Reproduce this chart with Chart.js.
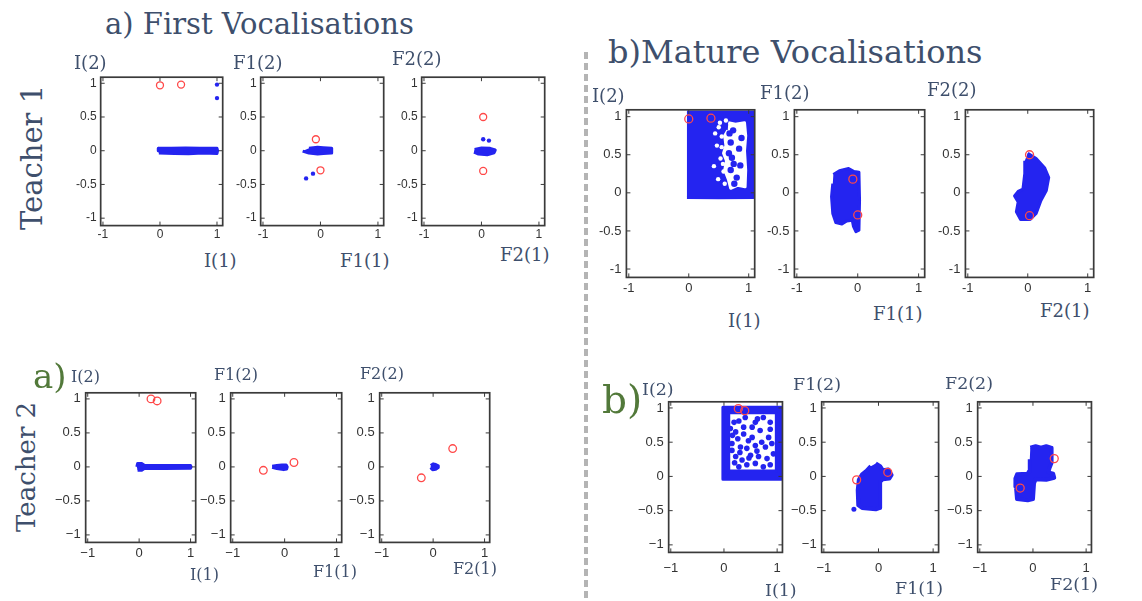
<!DOCTYPE html>
<html>
<head>
<meta charset="utf-8">
<script src="https://cdn.jsdelivr.net/npm/chart.js@4.4.0/dist/chart.umd.min.js"></script>
<style>
  body { margin: 0; width: 1142px; height: 601px; position: relative; overflow: hidden; background: #fff;
         font-family: 'DejaVu Serif', serif; color: #3e4f6c; }
  .t { position: absolute; white-space: nowrap; line-height: 1; }
  canvas { position: absolute; }
  .sep { position: absolute; left: 584px; top: 52px; width: 4px; height: 549px;
         background: repeating-linear-gradient(to bottom, #b4b4b4 0 7px, transparent 7px 11px); }
</style>
</head>
<body>
<div class="sep"></div>
<script>
// axes
const xTicks = [-1, 0, 1];
const yTicks = [-1, -0.5, 0, 0.5, 1];
const xLabelsHyphen = ['-1', '0', '1'];
const yLabelsHyphen = ['-1', '-0.5', '0', '0.5', '1'];
const xLabelsMinus = ['\u22121', '0', '1'];
const yLabelsMinus = ['\u22121', '\u22120.5', '0', '0.5', '1'];

// Teacher 1, first vocalisations
const t1FirstITargets = [[0.0, 0.97], [0.37, 0.98]];
const t1FirstIPoints = [[1.0, 0.98], [1.0, 0.78]];
const t1FirstICloud = [[-0.02, -0.035], [0.25, -0.04], [0.5, -0.045], [0.75, -0.035], [1.0, -0.04], [1.01, 0],
  [1.0, 0.035], [0.7, 0.035], [0.45, 0.04], [0.2, 0.035], [-0.02, 0.035], [-0.03, 0]];
const t1FirstF1Targets = [[-0.08, 0.17], [0.0, -0.29]];
const t1FirstF1Points = [[-0.25, -0.41], [-0.13, -0.34]];
const t1FirstF1Cloud = [[-0.31, -0.005], [-0.2, -0.035], [-0.05, -0.05], [0.05, -0.04], [0.19, -0.035], [0.2, 0],
  [0.19, 0.035], [0.05, 0.045], [-0.05, 0.05], [-0.2, 0.035]];
const t1FirstF2Targets = [[0.03, 0.5], [0.03, -0.3]];
const t1FirstF2Points = [[0.03, 0.17], [0.13, 0.15]];
const t1FirstF2Cloud = [[-0.13, -0.02], [-0.05, -0.05], [0.1, -0.06], [0.22, -0.03], [0.24, 0.01], [0.15, 0.035],
  [0.0, 0.04], [-0.12, 0.02]];

// Teacher 1, mature vocalisations
const t1MatureITargets = [[0.0, 0.97], [0.37, 0.98]];
const t1MatureICloud = [[-0.03, -0.06], [0.5, -0.065], [1.08, -0.06], [1.08, 1.06], [-0.03, 1.06]];
const t1MatureIGap = [[0.66, 0.92], [0.78, 0.9], [0.93, 0.92], [0.95, 0.75], [0.93, 0.55], [0.95, 0.3],
  [0.94, 0.08], [0.82, 0.1], [0.7, 0.06], [0.66, 0.18], [0.6, 0.3], [0.63, 0.42], [0.58, 0.52], [0.62, 0.62],
  [0.6, 0.75], [0.65, 0.82]];
const t1MatureIHoles = [[0.5, 0.86], [0.55, 0.74], [0.47, 0.62], [0.53, 0.45], [0.58, 0.28], [0.49, 0.18],
  [0.62, 0.95], [0.42, 0.35], [0.6, 0.12], [0.44, 0.78], [0.55, 0.6], [0.52, 0.92], [0.57, 0.38]];
const t1MatureIIslands = [[0.74, 0.82], [0.7, 0.66], [0.84, 0.58], [0.72, 0.46], [0.86, 0.36], [0.7, 0.3],
  [0.8, 0.2], [0.88, 0.72], [0.76, 0.12], [0.67, 0.52], [0.75, 0.38], [0.68, 0.78]];
const t1MatureF1Targets = [[-0.08, 0.18], [0.0, -0.29]];
const t1MatureF1Cloud = [[-0.4, 0.24], [-0.3, 0.29], [-0.15, 0.32], [-0.06, 0.28], [0.02, 0.27], [0.03, -0.1],
  [0.02, -0.49], [-0.03, -0.51], [-0.07, -0.44], [-0.09, -0.36], [-0.18, -0.37], [-0.26, -0.41], [-0.36, -0.39],
  [-0.41, -0.27], [-0.43, -0.05], [-0.41, 0.12]];
const t1MatureF2Targets = [[0.03, 0.5], [0.03, -0.3]];
const t1MatureF2Cloud = [[0.0, 0.52], [0.14, 0.45], [0.28, 0.33], [0.35, 0.2], [0.31, 0.03], [0.22, -0.1],
  [0.14, -0.27], [0.04, -0.35], [-0.12, -0.35], [-0.19, -0.25], [-0.16, -0.12], [-0.22, -0.04], [-0.16, 0.02],
  [-0.08, 0.05], [-0.05, 0.25], [-0.05, 0.42]];

// Teacher 2, first vocalisations
const t2FirstITargets = [[0.23, 1.0], [0.35, 0.97]];
const t2FirstICloud = [[-0.03, -0.05], [0.05, -0.05], [0.1, -0.025], [0.5, -0.025], [1.0, -0.02], [1.01, 0.0],
  [1.0, 0.02], [0.5, 0.02], [0.1, 0.025], [0.05, 0.05], [-0.03, 0.05], [-0.045, 0]];
const t2FirstF1Targets = [[-0.41, -0.05], [0.18, 0.065]];
const t2FirstF1Cloud = [[-0.24, -0.005], [-0.15, -0.025], [-0.02, -0.04], [0.04, -0.03], [0.05, 0.0], [0.03, 0.03],
  [-0.05, 0.03], [-0.15, 0.02], [-0.24, 0.01]];
const t2FirstF2Targets = [[-0.23, -0.16], [0.38, 0.27]];
const t2FirstF2Cloud = [[-0.05, -0.01], [-0.01, -0.04], [0.05, -0.035], [0.1, -0.01], [0.1, 0.015], [0.05, 0.035],
  [0.0, 0.045], [-0.045, 0.02]];

// Teacher 2, mature vocalisations
const t2MatureITargets = [[0.27, 0.99], [0.39, 0.96]];
const t2MatureIFrame = [[-0.02, -0.04], [1.08, -0.04], [1.08, 1.01], [-0.02, 1.01], [-0.02, -0.04],
  [0.09, 0.08], [0.09, 0.93], [0.985, 0.93], [0.985, 0.08], [0.09, 0.08]];
const t2MatureIPoints = [[0.19, 0.79], [0.28, 0.81], [0.4, 0.86], [0.59, 0.79], [0.74, 0.86], [0.87, 0.79],
  [0.22, 0.65], [0.37, 0.62], [0.53, 0.57], [0.68, 0.67], [0.84, 0.57], [0.15, 0.48], [0.31, 0.43], [0.43, 0.41],
  [0.59, 0.45], [0.78, 0.43], [0.9, 0.48], [0.22, 0.29], [0.34, 0.24], [0.5, 0.31], [0.65, 0.29], [0.81, 0.26],
  [0.93, 0.33], [0.28, 0.14], [0.43, 0.17], [0.59, 0.19], [0.74, 0.14], [0.87, 0.17], [0.15, 0.38], [0.53, 0.72],
  [0.71, 0.5], [0.87, 0.69], [0.37, 0.72], [0.16, 0.6], [0.26, 0.55], [0.46, 0.52], [0.62, 0.37], [0.3, 0.35],
  [0.2, 0.2], [0.47, 0.27], [0.12, 0.7], [0.63, 0.84]];
const t2MatureF1Targets = [[-0.4, -0.05], [0.17, 0.06]];
const t2MatureF1Points = [[-0.45, -0.48]];
const t2MatureF1Cloud = [[-0.05, 0.19], [0.03, 0.15], [0.08, 0.09], [0.18, 0.1], [0.24, 0.02], [0.2, -0.03],
  [0.08, -0.04], [0.03, -0.08], [0.03, -0.46], [-0.05, -0.48], [-0.3, -0.46], [-0.37, -0.42], [-0.38, -0.2],
  [-0.36, -0.05], [-0.3, 0.03], [-0.22, 0.08], [-0.14, 0.15]];
const t2MatureF2Targets = [[-0.24, -0.17], [0.4, 0.26]];
const t2MatureF2Cloud = [[-0.05, 0.42], [0.05, 0.44], [0.15, 0.42], [0.25, 0.44], [0.34, 0.42], [0.35, 0.2],
  [0.31, 0.12], [0.29, 0.06], [0.38, 0.04], [0.4, -0.02], [0.25, -0.05], [0.05, -0.04], [0.02, -0.1], [0.0, -0.33],
  [-0.1, -0.35], [-0.3, -0.33], [-0.32, -0.15], [-0.33, -0.03], [-0.3, 0.03], [-0.1, 0.04], [-0.07, 0.08],
  [-0.06, 0.25]];

const blue = '#2424f0';
const red = '#ff4848';

function xy(pairs) { return pairs.map(([x, y]) => ({ x, y })); }

function targets(pairs, r) {
  return { type: 'scatter', data: xy(pairs), pointRadius: r, borderWidth: 1.3, borderColor: red,
           backgroundColor: 'rgba(0,0,0,0)' };
}
function dots(pairs, r, color) {
  return { type: 'scatter', data: xy(pairs), pointRadius: r, borderWidth: 0, backgroundColor: color || blue };
}
function cloud(pairs, color, bw) {
  const c = color || blue;
  return { type: 'line', data: xy(pairs), fill: 'shape', backgroundColor: c, borderColor: c,
           borderWidth: bw === undefined ? 3 : bw, borderJoinStyle: 'round', pointRadius: 0, tension: 0 };
}

// matlab-ish box with inward tick marks on all four sides
const boxPlugin = {
  id: 'matlabBox',
  afterDatasetsDraw(chart) {
    const { ctx, chartArea: a, scales: { x, y } } = chart;
    ctx.save();
    ctx.strokeStyle = '#3a3a3a';
    ctx.lineWidth = 1;
    ctx.beginPath();
    x.ticks.forEach(t => {
      const px = x.getPixelForValue(t.value);
      ctx.moveTo(px, a.bottom); ctx.lineTo(px, a.bottom - 4);
      ctx.moveTo(px, a.top); ctx.lineTo(px, a.top + 4);
    });
    y.ticks.forEach(t => {
      const py = y.getPixelForValue(t.value);
      ctx.moveTo(a.left, py); ctx.lineTo(a.left + 4, py);
      ctx.moveTo(a.right, py); ctx.lineTo(a.right - 4, py);
    });
    ctx.stroke();
    ctx.lineWidth = 1.7;
    ctx.strokeRect(a.left, a.top, a.right - a.left, a.bottom - a.top);
    ctx.restore();
  }
};

// datasets are listed top layer first
const panels = [
  { box: [101, 77, 122, 148], font: 12, yPad: 4, xPad: 2, minus: false,
    sets: [targets(t1FirstITargets, 3.5), dots(t1FirstIPoints, 2.2), cloud(t1FirstICloud)] },
  { box: [261, 77, 123, 148], font: 12, yPad: 4, xPad: 2, minus: false,
    sets: [targets(t1FirstF1Targets, 3.5), dots(t1FirstF1Points, 2.2), cloud(t1FirstF1Cloud)] },
  { box: [422, 77, 123, 148], font: 12, yPad: 4, xPad: 2, minus: false,
    sets: [targets(t1FirstF2Targets, 3.5), dots(t1FirstF2Points, 2.2), cloud(t1FirstF2Cloud)] },
  { box: [626, 110, 128, 168], font: 13, yPad: 5, xPad: 3, minus: false,
    sets: [targets(t1MatureITargets, 4), dots(t1MatureIIslands, 3.2), dots(t1MatureIHoles, 2.2, '#fff'),
           cloud(t1MatureIGap, '#fff', 3), cloud(t1MatureICloud)] },
  { box: [794, 110, 130, 168], font: 13, yPad: 5, xPad: 3, minus: false,
    sets: [targets(t1MatureF1Targets, 4), cloud(t1MatureF1Cloud)] },
  { box: [965, 110, 128, 168], font: 13, yPad: 5, xPad: 3, minus: false,
    sets: [targets(t1MatureF2Targets, 4), cloud(t1MatureF2Cloud)] },
  { box: [86, 393, 110, 150], font: 13, yPad: 5, xPad: 3, minus: true,
    sets: [targets(t2FirstITargets, 3.8), cloud(t2FirstICloud)] },
  { box: [231, 393, 111, 150], font: 13, yPad: 5, xPad: 3, minus: true,
    sets: [targets(t2FirstF1Targets, 3.8), cloud(t2FirstF1Cloud)] },
  { box: [380, 393, 110, 150], font: 13, yPad: 5, xPad: 3, minus: true,
    sets: [targets(t2FirstF2Targets, 3.8), cloud(t2FirstF2Cloud)] },
  { box: [669, 402, 115, 151], font: 13, yPad: 5, xPad: 8, minus: true,
    sets: [targets(t2MatureITargets, 4), dots(t2MatureIPoints, 2.8), cloud(t2MatureIFrame)] },
  { box: [822, 402, 118, 151], font: 13, yPad: 5, xPad: 8, minus: true,
    sets: [targets(t2MatureF1Targets, 4), dots(t2MatureF1Points, 2.5), cloud(t2MatureF1Cloud, undefined, 4)] },
  { box: [978, 402, 115, 151], font: 13, yPad: 5, xPad: 8, minus: true,
    sets: [targets(t2MatureF2Targets, 4), cloud(t2MatureF2Cloud, undefined, 4)] }
];

function makePanel(p) {
  const [bx, by, bw, bh] = p.box;
  const xl = p.minus ? xLabelsMinus : xLabelsHyphen;
  const yl = p.minus ? yLabelsMinus : yLabelsHyphen;
  const cv = document.createElement('canvas');
  cv.width = bw + 60;
  cv.height = bh + 40;
  document.body.appendChild(cv);
  const tickFont = { family: "'Liberation Sans', Arial, sans-serif", size: p.font };
  const chart = new Chart(cv, {
    type: 'scatter',
    data: { datasets: p.sets },
    options: {
      responsive: false, maintainAspectRatio: false, animation: false, events: [],
      layout: { padding: { top: 2, right: 2 } },
      plugins: { legend: { display: false }, tooltip: { enabled: false } },
      scales: {
        x: { type: 'linear', min: -1.04, max: 1.1,
             afterBuildTicks: s => { s.ticks = xTicks.map(v => ({ value: v })); },
             grid: { display: false, drawTicks: false }, border: { display: false },
             ticks: { padding: p.xPad, font: tickFont, color: '#333', maxRotation: 0, autoSkip: false,
                      callback: (v, i) => xl[i] } },
        y: { type: 'linear', min: -1.11, max: 1.09,
             afterBuildTicks: s => { s.ticks = yTicks.map(v => ({ value: v })); },
             grid: { display: false, drawTicks: false }, border: { display: false },
             ticks: { padding: p.yPad, font: tickFont, color: '#333', autoSkip: false,
                      callback: (v, i) => yl[i] } }
      }
    },
    plugins: [boxPlugin]
  });
  // resize so the plot box lands exactly on the reference box
  const a = chart.chartArea;
  const l = a.left, t = a.top, r = chart.width - a.right, b = chart.height - a.bottom;
  chart.resize(Math.round(bw + l + r), Math.round(bh + t + b));
  cv.style.left = Math.round(bx - chart.chartArea.left) + 'px';
  cv.style.top = Math.round(by - chart.chartArea.top) + 'px';
}

panels.forEach(makePanel);

// text: [string, left, baseline, size, colour]
const slate = '#3e4f6c';
const green = '#52793a';
const texts = [
  ['a) First Vocalisations', 105, 34.3, 29, slate],
  ['b)Mature Vocalisations', 608, 62.7, 32, slate],
  ['I(2)', 74, 69.5, 18, slate], ['F1(2)', 233, 69.5, 18, slate], ['F2(2)', 392, 65, 18, slate],
  ['I(1)', 204, 267.5, 18, slate], ['F1(1)', 340, 267.5, 18, slate], ['F2(1)', 500, 261, 18, slate],
  ['I(2)', 592, 102, 18, slate], ['F1(2)', 760, 99.5, 18, slate], ['F2(2)', 927, 96, 18, slate],
  ['I(1)', 728, 327.5, 18, slate], ['F1(1)', 873, 320.5, 18, slate], ['F2(1)', 1040, 317.5, 18, slate],
  ['I(2)', 71, 383, 16, slate], ['F1(2)', 214, 381, 16, slate], ['F2(2)', 360, 380, 16, slate],
  ['I(1)', 190, 581, 16, slate], ['F1(1)', 313, 578, 16, slate], ['F2(1)', 453, 575, 16, slate],
  ['I(2)', 642, 396, 17.5, slate], ['F1(2)', 793, 391, 17.5, slate], ['F2(2)', 945, 389.5, 17.5, slate],
  ['I(1)', 765, 597, 17.5, slate], ['F1(1)', 895, 594.5, 17.5, slate], ['F2(1)', 1050, 591, 17.5, slate],
  ['a)', 33, 388, 34, green], ['b)', 602, 413, 39, green]
];
texts.forEach(([s, left, base, size, color]) => {
  const d = document.createElement('div');
  d.className = 't';
  d.textContent = s;
  d.style.fontSize = size + 'px';
  d.style.color = color;
  d.style.left = left + 'px';
  d.style.top = (base - 0.846 * size) + 'px';
  document.body.appendChild(d);
});

// vertical row labels: [string, baseline x, bottom y, size]
const rowLabels = [['Teacher 1', 43, 230, 29], ['Teacher 2', 35, 532, 26]];
rowLabels.forEach(([s, bxl, bottom, size]) => {
  const d = document.createElement('div');
  d.className = 't';
  d.textContent = s;
  d.style.fontSize = size + 'px';
  d.style.left = (bxl - 0.846 * size) + 'px';
  d.style.top = bottom + 'px';
  d.style.transformOrigin = '0 0';
  d.style.transform = 'rotate(-90deg)';
  document.body.appendChild(d);
});
</script>
</body>
</html>
